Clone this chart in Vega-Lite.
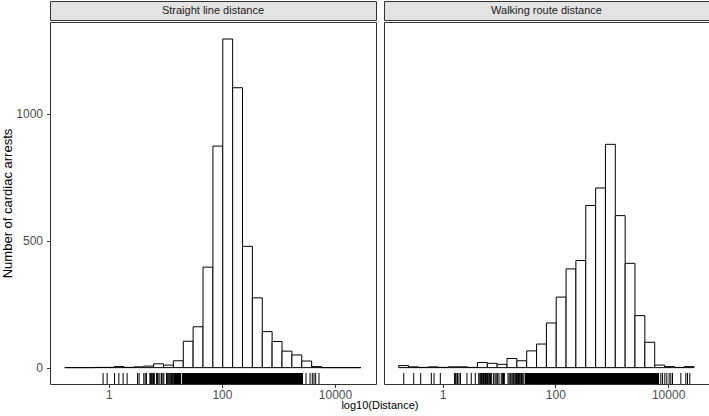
{
  "$schema": "https://vega.github.io/schema/vega-lite/v6.json",
  "padding": {"left": 1, "top": 0, "right": 1, "bottom": 0},
  "title": {"text": "log10(Distance)", "orient": "bottom", "anchor": "middle", "dx": 24.5, "offset": -1, "fontSize": 11, "fontWeight": "normal", "color": "#000000", "font": "Liberation Sans"},
  "config": {
    "font": "Liberation Sans",
    "view": {"stroke": "#333333", "strokeWidth": 1},
    "axis": {"grid": false, "domain": false, "tickColor": "#333333", "tickSize": 3.5, "labelColor": "#4d4d4d", "labelFontSize": 12, "titleFontWeight": "normal", "titleColor": "#000000"}
  },
  "datasets": {
    "strips": [
      {"panel": "straight", "label": "Straight line distance"},
      {"panel": "walking", "label": "Walking route distance"}
    ],
    "bins": [
      {"panel": "straight", "bin_start": -0.779, "bin_end": -0.604, "count": 0},
      {"panel": "straight", "bin_start": -0.604, "bin_end": -0.430, "count": 0},
      {"panel": "straight", "bin_start": -0.430, "bin_end": -0.255, "count": 0},
      {"panel": "straight", "bin_start": -0.255, "bin_end": -0.080, "count": 1},
      {"panel": "straight", "bin_start": -0.080, "bin_end": 0.094, "count": 1},
      {"panel": "straight", "bin_start": 0.094, "bin_end": 0.269, "count": 4},
      {"panel": "straight", "bin_start": 0.269, "bin_end": 0.443, "count": 1},
      {"panel": "straight", "bin_start": 0.443, "bin_end": 0.618, "count": 3},
      {"panel": "straight", "bin_start": 0.618, "bin_end": 0.793, "count": 6},
      {"panel": "straight", "bin_start": 0.793, "bin_end": 0.967, "count": 15},
      {"panel": "straight", "bin_start": 0.967, "bin_end": 1.142, "count": 10},
      {"panel": "straight", "bin_start": 1.142, "bin_end": 1.317, "count": 27},
      {"panel": "straight", "bin_start": 1.317, "bin_end": 1.491, "count": 104},
      {"panel": "straight", "bin_start": 1.491, "bin_end": 1.666, "count": 161},
      {"panel": "straight", "bin_start": 1.666, "bin_end": 1.841, "count": 396},
      {"panel": "straight", "bin_start": 1.841, "bin_end": 2.015, "count": 873},
      {"panel": "straight", "bin_start": 2.015, "bin_end": 2.190, "count": 1295},
      {"panel": "straight", "bin_start": 2.190, "bin_end": 2.364, "count": 1103},
      {"panel": "straight", "bin_start": 2.364, "bin_end": 2.539, "count": 478},
      {"panel": "straight", "bin_start": 2.539, "bin_end": 2.714, "count": 275},
      {"panel": "straight", "bin_start": 2.714, "bin_end": 2.888, "count": 142},
      {"panel": "straight", "bin_start": 2.888, "bin_end": 3.063, "count": 103},
      {"panel": "straight", "bin_start": 3.063, "bin_end": 3.238, "count": 65},
      {"panel": "straight", "bin_start": 3.238, "bin_end": 3.412, "count": 50},
      {"panel": "straight", "bin_start": 3.412, "bin_end": 3.587, "count": 26},
      {"panel": "straight", "bin_start": 3.587, "bin_end": 3.762, "count": 4},
      {"panel": "straight", "bin_start": 3.762, "bin_end": 3.936, "count": 0},
      {"panel": "straight", "bin_start": 3.936, "bin_end": 4.111, "count": 0},
      {"panel": "straight", "bin_start": 4.111, "bin_end": 4.285, "count": 0},
      {"panel": "straight", "bin_start": 4.285, "bin_end": 4.460, "count": 0},
      {"panel": "walking", "bin_start": -0.779, "bin_end": -0.604, "count": 8},
      {"panel": "walking", "bin_start": -0.604, "bin_end": -0.430, "count": 3},
      {"panel": "walking", "bin_start": -0.430, "bin_end": -0.255, "count": 1},
      {"panel": "walking", "bin_start": -0.255, "bin_end": -0.080, "count": 3},
      {"panel": "walking", "bin_start": -0.080, "bin_end": 0.094, "count": 1},
      {"panel": "walking", "bin_start": 0.094, "bin_end": 0.269, "count": 3},
      {"panel": "walking", "bin_start": 0.269, "bin_end": 0.443, "count": 3},
      {"panel": "walking", "bin_start": 0.443, "bin_end": 0.618, "count": 1},
      {"panel": "walking", "bin_start": 0.618, "bin_end": 0.793, "count": 20},
      {"panel": "walking", "bin_start": 0.793, "bin_end": 0.967, "count": 17},
      {"panel": "walking", "bin_start": 0.967, "bin_end": 1.142, "count": 13},
      {"panel": "walking", "bin_start": 1.142, "bin_end": 1.317, "count": 36},
      {"panel": "walking", "bin_start": 1.317, "bin_end": 1.491, "count": 27},
      {"panel": "walking", "bin_start": 1.491, "bin_end": 1.666, "count": 66},
      {"panel": "walking", "bin_start": 1.666, "bin_end": 1.841, "count": 93},
      {"panel": "walking", "bin_start": 1.841, "bin_end": 2.015, "count": 176},
      {"panel": "walking", "bin_start": 2.015, "bin_end": 2.190, "count": 278},
      {"panel": "walking", "bin_start": 2.190, "bin_end": 2.364, "count": 389},
      {"panel": "walking", "bin_start": 2.364, "bin_end": 2.539, "count": 422},
      {"panel": "walking", "bin_start": 2.539, "bin_end": 2.714, "count": 639},
      {"panel": "walking", "bin_start": 2.714, "bin_end": 2.888, "count": 708},
      {"panel": "walking", "bin_start": 2.888, "bin_end": 3.063, "count": 880},
      {"panel": "walking", "bin_start": 3.063, "bin_end": 3.238, "count": 599},
      {"panel": "walking", "bin_start": 3.238, "bin_end": 3.412, "count": 411},
      {"panel": "walking", "bin_start": 3.412, "bin_end": 3.587, "count": 205},
      {"panel": "walking", "bin_start": 3.587, "bin_end": 3.762, "count": 100},
      {"panel": "walking", "bin_start": 3.762, "bin_end": 3.936, "count": 10},
      {"panel": "walking", "bin_start": 3.936, "bin_end": 4.111, "count": 4},
      {"panel": "walking", "bin_start": 4.111, "bin_end": 4.285, "count": 1},
      {"panel": "walking", "bin_start": 4.285, "bin_end": 4.460, "count": 4}
    ],
    "rug": [
      {"panel": "straight", "log10_distance": -0.101},
      {"panel": "straight", "log10_distance": -0.030},
      {"panel": "straight", "log10_distance": 0.101},
      {"panel": "straight", "log10_distance": 0.177},
      {"panel": "straight", "log10_distance": 0.253},
      {"panel": "straight", "log10_distance": 0.324},
      {"panel": "straight", "log10_distance": 0.508},
      {"panel": "straight", "log10_distance": 0.536},
      {"panel": "straight", "log10_distance": 0.619},
      {"panel": "straight", "log10_distance": 0.643},
      {"panel": "straight", "log10_distance": 0.667},
      {"panel": "straight", "log10_distance": 0.726},
      {"panel": "straight", "log10_distance": 0.740},
      {"panel": "straight", "log10_distance": 0.752},
      {"panel": "straight", "log10_distance": 0.765},
      {"panel": "straight", "log10_distance": 0.779},
      {"panel": "straight", "log10_distance": 0.790},
      {"panel": "straight", "log10_distance": 0.805},
      {"panel": "straight", "log10_distance": 0.844},
      {"panel": "straight", "log10_distance": 0.858},
      {"panel": "straight", "log10_distance": 0.873},
      {"panel": "straight", "log10_distance": 0.903},
      {"panel": "straight", "log10_distance": 0.933},
      {"panel": "straight", "log10_distance": 0.956},
      {"panel": "straight", "log10_distance": 0.973},
      {"panel": "straight", "log10_distance": 1.021},
      {"panel": "straight", "log10_distance": 1.035},
      {"panel": "straight", "log10_distance": 1.050},
      {"panel": "straight", "log10_distance": 1.065},
      {"panel": "straight", "log10_distance": 1.080},
      {"panel": "straight", "log10_distance": 1.095},
      {"panel": "straight", "log10_distance": 1.110},
      {"panel": "straight", "log10_distance": 1.125},
      {"panel": "straight", "log10_distance": 3.487},
      {"panel": "straight", "log10_distance": 3.558},
      {"panel": "straight", "log10_distance": 3.598},
      {"panel": "straight", "log10_distance": 3.628},
      {"panel": "straight", "log10_distance": 3.658},
      {"panel": "straight", "log10_distance": 3.717},
      {"panel": "walking", "log10_distance": -0.690},
      {"panel": "walking", "log10_distance": -0.513},
      {"panel": "walking", "log10_distance": -0.389},
      {"panel": "walking", "log10_distance": -0.200},
      {"panel": "walking", "log10_distance": -0.152},
      {"panel": "walking", "log10_distance": -0.041},
      {"panel": "walking", "log10_distance": 0.212},
      {"panel": "walking", "log10_distance": 0.225},
      {"panel": "walking", "log10_distance": 0.240},
      {"panel": "walking", "log10_distance": 0.265},
      {"panel": "walking", "log10_distance": 0.290},
      {"panel": "walking", "log10_distance": 0.316},
      {"panel": "walking", "log10_distance": 0.432},
      {"panel": "walking", "log10_distance": 0.508},
      {"panel": "walking", "log10_distance": 0.579},
      {"panel": "walking", "log10_distance": 0.640},
      {"panel": "walking", "log10_distance": 0.660},
      {"panel": "walking", "log10_distance": 0.675},
      {"panel": "walking", "log10_distance": 0.690},
      {"panel": "walking", "log10_distance": 0.710},
      {"panel": "walking", "log10_distance": 0.725},
      {"panel": "walking", "log10_distance": 0.740},
      {"panel": "walking", "log10_distance": 0.760},
      {"panel": "walking", "log10_distance": 0.780},
      {"panel": "walking", "log10_distance": 0.795},
      {"panel": "walking", "log10_distance": 0.810},
      {"panel": "walking", "log10_distance": 0.830},
      {"panel": "walking", "log10_distance": 0.850},
      {"panel": "walking", "log10_distance": 0.870},
      {"panel": "walking", "log10_distance": 0.905},
      {"panel": "walking", "log10_distance": 0.930},
      {"panel": "walking", "log10_distance": 0.950},
      {"panel": "walking", "log10_distance": 0.975},
      {"panel": "walking", "log10_distance": 1.000},
      {"panel": "walking", "log10_distance": 1.040},
      {"panel": "walking", "log10_distance": 1.060},
      {"panel": "walking", "log10_distance": 1.080},
      {"panel": "walking", "log10_distance": 1.095},
      {"panel": "walking", "log10_distance": 1.160},
      {"panel": "walking", "log10_distance": 1.180},
      {"panel": "walking", "log10_distance": 1.200},
      {"panel": "walking", "log10_distance": 1.215},
      {"panel": "walking", "log10_distance": 1.235},
      {"panel": "walking", "log10_distance": 1.255},
      {"panel": "walking", "log10_distance": 1.270},
      {"panel": "walking", "log10_distance": 1.290},
      {"panel": "walking", "log10_distance": 1.310},
      {"panel": "walking", "log10_distance": 1.330},
      {"panel": "walking", "log10_distance": 1.345},
      {"panel": "walking", "log10_distance": 1.365},
      {"panel": "walking", "log10_distance": 1.385},
      {"panel": "walking", "log10_distance": 1.400},
      {"panel": "walking", "log10_distance": 1.420},
      {"panel": "walking", "log10_distance": 1.440},
      {"panel": "walking", "log10_distance": 3.871},
      {"panel": "walking", "log10_distance": 3.901},
      {"panel": "walking", "log10_distance": 3.942},
      {"panel": "walking", "log10_distance": 3.977},
      {"panel": "walking", "log10_distance": 4.018},
      {"panel": "walking", "log10_distance": 4.048},
      {"panel": "walking", "log10_distance": 4.078},
      {"panel": "walking", "log10_distance": 4.226},
      {"panel": "walking", "log10_distance": 4.314},
      {"panel": "walking", "log10_distance": 4.343},
      {"panel": "walking", "log10_distance": 4.384}
    ],
    "rugband": [
      {"panel": "straight", "from": 1.138, "to": 1.280},
      {"panel": "straight", "from": 1.295, "to": 3.435},
      {"panel": "walking", "from": 1.458, "to": 3.840}
    ]
  },
  "spacing": 6,
  "hconcat": [
    {
      "spacing": 0,
      "vconcat": [
        {
          "width": 326, "height": 19,
          "data": {"name": "strips"},
          "transform": [{"filter": "datum.panel === 'straight'"}],
          "view": {"fill": "#e3e3e3", "stroke": "#333333"},
          "mark": {"type": "text", "fontSize": 11, "color": "#1a1a1a"},
          "encoding": {"text": {"field": "label"}}
        },
        {
          "width": 326, "height": 362,
          "layer": [
            {
              "data": {"name": "bins"},
              "transform": [{"filter": "datum.panel === 'straight'"}],
              "mark": {"type": "rect", "fill": "white", "stroke": "#000000", "strokeWidth": 1},
              "encoding": {
                "x": {"field": "bin_start", "type": "quantitative", "title": null,
                  "scale": {"domain": [-1.04, 4.725], "nice": false, "zero": false},
                  "axis": {"values": [0, 2, 4], "labelExpr": "format(pow(10, datum.value), 'd')", "labelPadding": 1.5, "labelFontSize": 12}},
                "x2": {"field": "bin_end"},
                "y": {"field": "count", "type": "quantitative", "title": "Number of cardiac arrests",
                  "scale": {"domain": [-64.5, 1362], "nice": false, "zero": false},
                  "axis": {"values": [0, 500, 1000], "format": "d", "labelPadding": 4, "titleFontSize": 13, "titlePadding": 1}},
                "y2": {"datum": 0}
              }
            },
            {
              "data": {"name": "rugband"},
              "transform": [{"filter": "datum.panel === 'straight'"}],
              "mark": {"type": "rect", "color": "#000000"},
              "encoding": {
                "x": {"field": "from", "type": "quantitative", "title": null},
                "x2": {"field": "to"},
                "y": {"datum": -64.5, "type": "quantitative", "title": "Number of cardiac arrests"},
                "y2": {"datum": -21}
              }
            },
            {
              "data": {"name": "rug"},
              "transform": [{"filter": "datum.panel === 'straight'"}],
              "mark": {"type": "rule", "color": "#000000", "strokeWidth": 1},
              "encoding": {
                "x": {"field": "log10_distance", "type": "quantitative", "title": null},
                "y": {"datum": -64.5, "type": "quantitative", "title": "Number of cardiac arrests"},
                "y2": {"datum": -21}
              }
            }
          ]
        }
      ]
    },
    {
      "spacing": 0,
      "vconcat": [
        {
          "width": 325, "height": 19,
          "data": {"name": "strips"},
          "transform": [{"filter": "datum.panel === 'walking'"}],
          "view": {"fill": "#e3e3e3", "stroke": "#333333"},
          "mark": {"type": "text", "fontSize": 11, "color": "#1a1a1a"},
          "encoding": {"text": {"field": "label"}}
        },
        {
          "width": 325, "height": 362,
          "layer": [
            {
              "data": {"name": "bins"},
              "transform": [{"filter": "datum.panel === 'walking'"}],
              "mark": {"type": "rect", "fill": "white", "stroke": "#000000", "strokeWidth": 1},
              "encoding": {
                "x": {"field": "bin_start", "type": "quantitative", "title": null,
                  "scale": {"domain": [-1.04, 4.725], "nice": false, "zero": false},
                  "axis": {"values": [0, 2, 4], "labelExpr": "format(pow(10, datum.value), 'd')", "labelPadding": 1.5, "labelFontSize": 12}},
                "x2": {"field": "bin_end"},
                "y": {"field": "count", "type": "quantitative",
                  "scale": {"domain": [-64.5, 1362], "nice": false, "zero": false},
                  "axis": null},
                "y2": {"datum": 0}
              }
            },
            {
              "data": {"name": "rugband"},
              "transform": [{"filter": "datum.panel === 'walking'"}],
              "mark": {"type": "rect", "color": "#000000"},
              "encoding": {
                "x": {"field": "from", "type": "quantitative", "title": null},
                "x2": {"field": "to"},
                "y": {"datum": -64.5, "type": "quantitative"},
                "y2": {"datum": -21}
              }
            },
            {
              "data": {"name": "rug"},
              "transform": [{"filter": "datum.panel === 'walking'"}],
              "mark": {"type": "rule", "color": "#000000", "strokeWidth": 1},
              "encoding": {
                "x": {"field": "log10_distance", "type": "quantitative", "title": null},
                "y": {"datum": -64.5, "type": "quantitative"},
                "y2": {"datum": -21}
              }
            }
          ]
        }
      ]
    }
  ]
}
